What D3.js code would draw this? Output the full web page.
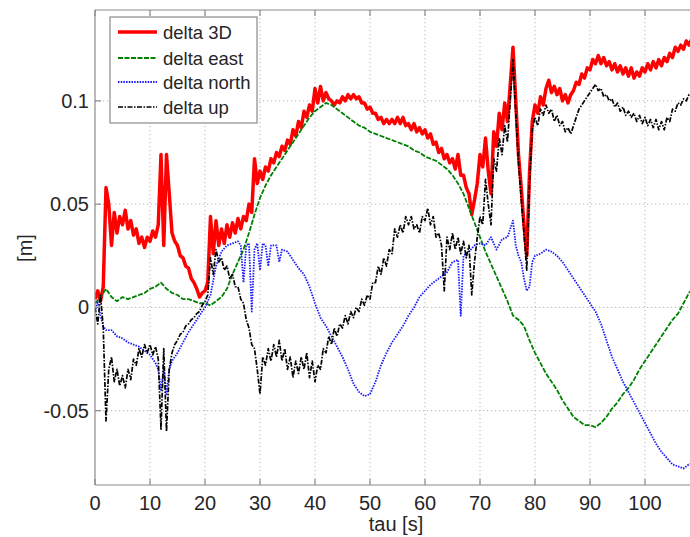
<!DOCTYPE html>
<html><head><meta charset="utf-8">
<script src="https://cdn.jsdelivr.net/npm/d3@7"></script>
<style>
html,body{margin:0;padding:0;background:#fff;}
svg{display:block;font-family:"Liberation Sans",Arial,Helvetica,sans-serif;}
</style></head>
<body>
<svg id="chart" width="690" height="537"></svg>
<script>
// ---- data ----
const xTicks = [0,10,20,30,40,50,60,70,80,90,100];
const yTicks = [-0.05,0,0.05,0.1];
const yTickLabels = ["-0.05","0","0.05","0.1"];
const seriesNames = ["delta 3D","delta east","delta north","delta up"];

// sample times for the noisy series (every 0.5 s)
const tauFine = d3.range(0, 109.01, 0.5);
const delta3D = [
0.004,0.008,0.003,0.010,0.058,0.050,0.030,0.046,0.036,0.044,
0.040,0.047,0.038,0.042,0.035,0.038,0.031,0.034,0.029,0.034,
0.032,0.037,0.034,0.040,0.074,0.030,0.074,0.055,0.036,0.032,
0.030,0.025,0.024,0.020,0.019,0.014,0.012,0.009,0.005,0.007,
0.008,0.012,0.044,0.026,0.042,0.030,0.038,0.031,0.040,0.034,
0.041,0.036,0.043,0.038,0.044,0.042,0.050,0.046,0.072,0.060,
0.066,0.062,0.068,0.066,0.072,0.070,0.075,0.073,0.078,0.076,
0.081,0.079,0.086,0.083,0.090,0.087,0.095,0.092,0.098,0.095,
0.106,0.099,0.107,0.100,0.104,0.101,0.100,0.098,0.100,0.099,
0.102,0.100,0.103,0.101,0.103,0.101,0.102,0.099,0.099,0.096,
0.097,0.094,0.094,0.091,0.092,0.089,0.091,0.089,0.091,0.089,
0.092,0.089,0.092,0.088,0.089,0.086,0.089,0.085,0.087,0.084,
0.086,0.082,0.084,0.079,0.080,0.075,0.077,0.072,0.074,0.070,
0.072,0.067,0.074,0.064,0.064,0.058,0.055,0.045,0.052,0.060,
0.074,0.068,0.082,0.066,0.055,0.085,0.078,0.094,0.086,0.099,
0.090,0.108,0.126,0.100,0.074,0.058,0.040,0.025,0.065,0.090,
0.098,0.094,0.102,0.098,0.106,0.110,0.104,0.107,0.103,0.106,
0.100,0.103,0.099,0.103,0.105,0.109,0.108,0.113,0.111,0.116,
0.115,0.120,0.118,0.122,0.118,0.121,0.117,0.119,0.115,0.118,
0.114,0.117,0.113,0.116,0.112,0.116,0.111,0.114,0.112,0.116,
0.114,0.118,0.115,0.119,0.116,0.120,0.117,0.121,0.119,0.123,
0.121,0.126,0.124,0.127,0.125,0.129,0.127,0.130,0.128
];
const deltaUp = [
0.000,-0.008,0.006,-0.010,-0.055,-0.030,-0.024,-0.036,-0.030,-0.038,
-0.033,-0.039,-0.030,-0.035,-0.025,-0.028,-0.020,-0.024,-0.018,-0.022,
-0.018,-0.023,-0.019,-0.025,-0.059,-0.020,-0.060,-0.030,-0.022,-0.018,
-0.016,-0.013,-0.012,-0.009,-0.008,-0.006,-0.005,-0.003,-0.002,0.001,
0.003,0.006,0.024,0.016,0.028,0.022,0.024,0.018,0.020,0.014,
0.016,0.010,0.010,0.004,0.002,-0.006,-0.010,-0.018,-0.020,-0.030,
-0.042,-0.024,-0.028,-0.020,-0.026,-0.018,-0.024,-0.016,-0.026,-0.020,
-0.030,-0.024,-0.034,-0.026,-0.032,-0.024,-0.030,-0.022,-0.034,-0.026,
-0.036,-0.028,-0.030,-0.020,-0.022,-0.014,-0.018,-0.010,-0.014,-0.008,
-0.010,-0.004,-0.008,-0.002,-0.005,0.000,-0.002,0.004,0.001,0.006,
0.004,0.012,0.012,0.020,0.016,0.024,0.020,0.028,0.026,0.038,
0.034,0.040,0.036,0.044,0.040,0.044,0.038,0.040,0.036,0.044,
0.042,0.048,0.040,0.044,0.034,0.036,0.030,0.008,0.034,0.028,
0.036,0.028,0.034,0.026,0.032,0.024,0.030,0.006,0.022,0.034,
0.044,0.040,0.062,0.050,0.040,0.072,0.066,0.082,0.074,0.088,
0.080,0.100,0.120,0.094,0.070,0.052,0.036,0.018,0.060,0.086,
0.092,0.088,0.096,0.093,0.098,0.094,0.096,0.090,0.093,0.088,
0.090,0.085,0.087,0.084,0.088,0.092,0.096,0.098,0.100,0.102,
0.104,0.106,0.108,0.105,0.106,0.102,0.103,0.100,0.101,0.097,
0.099,0.095,0.097,0.093,0.095,0.092,0.094,0.090,0.093,0.089,
0.092,0.088,0.091,0.087,0.091,0.086,0.090,0.086,0.092,0.090,
0.096,0.095,0.099,0.098,0.101,0.100,0.103,0.102,0.104
];
// delta east, every 1 s
const tauEast = d3.range(0, 109.01, 1);
const deltaEast = [
0.002,0.005,0.009,0.005,0.003,0.005,0.004,0.005,0.006,0.007,
0.009,0.010,0.012,0.009,0.007,0.006,0.004,0.004,0.003,0.002,
0.002,0.001,0.003,0.005,0.009,0.016,0.022,0.028,0.036,0.045,
0.053,0.059,0.064,0.068,0.072,0.076,0.080,0.084,0.088,0.092,
0.095,0.097,0.099,0.098,0.096,0.094,0.092,0.090,0.088,0.087,
0.085,0.084,0.083,0.082,0.081,0.080,0.079,0.078,0.076,0.075,
0.073,0.072,0.071,0.069,0.067,0.064,0.060,0.055,0.048,0.041,
0.034,0.027,0.021,0.015,0.009,0.003,-0.004,-0.006,-0.009,-0.016,
-0.022,-0.027,-0.032,-0.036,-0.040,-0.045,-0.049,-0.053,-0.055,-0.057,
-0.057,-0.058,-0.056,-0.053,-0.049,-0.046,-0.042,-0.039,-0.035,-0.030,
-0.026,-0.022,-0.018,-0.014,-0.010,-0.006,-0.003,0.002,0.007,0.010
];
// delta north: times and values
const tauNorth = [
0,0.5,1,1.5,2,3,4,5,6,7,8,9,10,11,11.5,12,12.5,13,13.5,14,
15,16,17,18,19,20,21,22,23,24,25,26,26.5,27,27.5,28,28.5,29,29.5,30,
30.5,31,31.5,32,33,33.5,34,35,36,37,38,39,40,41,42,43,44,45,46,47,
48,49,50,51,52,53,54,55,56,57,58,59,60,61,62,63,64,65,66,66.5,
67,68,69,70,71,72,73,74,75,76,76.5,77,77.5,78,78.5,79,79.5,80,81,82,
83,84,85,86,87,88,89,90,91,92,93,94,95,96,97,98,99,100,101,102,
103,104,105,106,107,108,109
];
const deltaNorth = [
-0.002,0.003,-0.004,-0.009,-0.011,-0.011,-0.014,-0.015,-0.017,-0.018,-0.019,-0.021,-0.023,-0.027,-0.030,-0.040,-0.030,-0.042,-0.030,-0.026,
-0.022,-0.017,-0.012,-0.008,-0.004,0.000,0.006,0.020,0.027,0.030,0.031,0.032,0.030,0.012,0.030,0.031,-0.002,0.028,0.031,0.018,
0.031,0.030,0.020,0.030,0.030,0.022,0.028,0.027,0.023,0.019,0.016,0.010,0.002,-0.005,-0.009,-0.014,-0.019,-0.024,-0.030,-0.037,
-0.041,-0.043,-0.042,-0.036,-0.028,-0.022,-0.017,-0.013,-0.009,-0.004,0.000,0.005,0.008,0.011,0.013,0.015,0.017,0.022,0.023,-0.004,
0.025,0.027,0.030,0.031,0.030,0.034,0.028,0.033,0.034,0.042,0.030,0.025,0.022,0.014,0.008,0.010,0.022,0.025,0.026,0.028,
0.027,0.025,0.022,0.018,0.014,0.010,0.006,0.002,-0.002,-0.008,-0.016,-0.024,-0.030,-0.036,-0.041,-0.046,-0.051,-0.056,-0.061,-0.066,
-0.070,-0.073,-0.076,-0.077,-0.078,-0.076,-0.075
];

// ---- layout ----
const svg = d3.select("#chart");
const L = 95, R = 700, T = 10, B = 485;
const x = d3.scaleLinear().domain([0,110]).range([L,R]);
const y = d3.scaleLinear().domain([-0.086,0.144]).range([B,T]);
const axisCol = "#8a8a8a", gridCol = "#b0b0b0", textCol = "#262626";

svg.append("defs").append("clipPath").attr("id","clip")
  .append("rect").attr("x",L).attr("y",T).attr("width",R-L).attr("height",B-T);

// grid
const g = svg.append("g");
g.selectAll(".gx").data(xTicks.filter(d=>d>0)).enter().append("line")
  .attr("x1",d=>x(d)).attr("x2",d=>x(d)).attr("y1",T).attr("y2",B)
  .attr("stroke",gridCol).attr("stroke-width",1).attr("stroke-dasharray","1.2,2.8");
g.selectAll(".gy").data(yTicks).enter().append("line")
  .attr("x1",L).attr("x2",R).attr("y1",d=>y(d)).attr("y2",d=>y(d))
  .attr("stroke",gridCol).attr("stroke-width",1).attr("stroke-dasharray","1.2,2.8");

// series
const plot = svg.append("g").attr("clip-path","url(#clip)");
const line = d3.line().x(d=>x(d[0])).y(d=>y(d[1]));
const zip = (t,v)=>t.map((tt,i)=>[tt,v[i]]);
const series = [
  {name:seriesNames[0], data:zip(tauFine,delta3D), color:"#ff0000", w:3.5, dash:null},
  {name:seriesNames[1], data:zip(tauEast,deltaEast), color:"#008000", w:1.8, dash:"5,1.5"},
  {name:seriesNames[2], data:zip(tauNorth,deltaNorth), color:"#1a1aff", w:1.8, dash:"1.5,1.2"},
  {name:seriesNames[3], data:zip(tauFine,deltaUp), color:"#000000", w:1.7, dash:"5,1.5,1.5,1.5"}
];
series.forEach(s=>{
  plot.append("path").attr("d",line(s.data)).attr("fill","none")
    .attr("stroke",s.color).attr("stroke-width",s.w)
    .attr("stroke-dasharray",s.dash).attr("stroke-linejoin","round");
});

// axes box: left, bottom, top
const ax = svg.append("g").attr("stroke",axisCol).attr("stroke-width",1.2);
ax.append("line").attr("x1",L).attr("x2",L).attr("y1",T).attr("y2",B);
ax.append("line").attr("x1",L).attr("x2",R).attr("y1",B).attr("y2",B);
ax.append("line").attr("x1",L).attr("x2",R).attr("y1",T).attr("y2",T);
// ticks (inward)
xTicks.forEach(t=>{
  ax.append("line").attr("x1",x(t)).attr("x2",x(t)).attr("y1",B).attr("y2",B-6);
  ax.append("line").attr("x1",x(t)).attr("x2",x(t)).attr("y1",T).attr("y2",T+6);
});
yTicks.forEach(t=>{
  ax.append("line").attr("x1",L).attr("x2",L+6).attr("y1",y(t)).attr("y2",y(t));
});

// tick labels
svg.selectAll(".xl").data(xTicks).enter().append("text")
  .attr("x",d=>x(d)).attr("y",510).attr("text-anchor","middle")
  .attr("font-size",20).attr("fill",textCol).text(d=>d);
svg.selectAll(".yl").data(yTicks).enter().append("text")
  .attr("x",L-6).attr("y",(d)=>y(d)+7).attr("text-anchor","end")
  .attr("font-size",20).attr("fill",textCol).text((d,i)=>yTickLabels[i]);

// axis labels
svg.append("text").attr("x",396).attr("y",531).attr("text-anchor","middle")
  .attr("font-size",20).attr("fill",textCol).text("tau [s]");
svg.append("text").attr("transform","translate(32,248) rotate(-90)")
  .attr("text-anchor","middle").attr("font-size",20).attr("fill",textCol).text("[m]");

// legend
const lg = svg.append("g");
lg.append("rect").attr("x",110).attr("y",17).attr("width",147).attr("height",106)
  .attr("fill","#fff").attr("stroke",axisCol).attr("stroke-width",1.2);
const rowY = [32,58,82,107];
series.forEach((s,i)=>{
  lg.append("line").attr("x1",118).attr("x2",157).attr("y1",rowY[i]).attr("y2",rowY[i])
    .attr("stroke",s.color).attr("stroke-width",s.w).attr("stroke-dasharray",s.dash);
  lg.append("text").attr("x",163).attr("y",rowY[i]+6.5).attr("font-size",18.5)
    .attr("fill",textCol).text(s.name);
});
</script>
</body></html>
